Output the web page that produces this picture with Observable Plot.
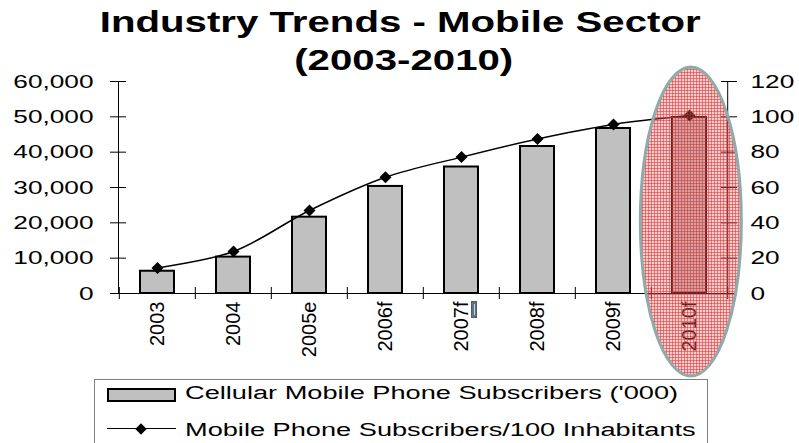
<!DOCTYPE html>
<html>
<head>
<meta charset="utf-8">
<script src="https://cdn.jsdelivr.net/npm/d3@7"></script>
<script src="https://cdn.jsdelivr.net/npm/@observablehq/plot@0.6"></script>
<style>
html, body { margin: 0; padding: 0; background: #fff; overflow: hidden; }
#wrap { position: relative; width: 799px; height: 443px; font-family: "Liberation Sans", Arial, sans-serif; color: #000; }
#title { position: absolute; left: 0; top: 2.6px; width: 799px; text-align: center; font-weight: bold; font-size: 30px; line-height: 38px; z-index: 2; }
#title div span { display: inline-block; transform: scaleX(1.34); transform-origin: center; white-space: nowrap; }
#chart svg { display: block; }
#chart [aria-label^="x-axis"] text { font-size: 20px; }
#legend { position: absolute; left: 94px; top: 379px; width: 614px; height: 90px; box-sizing: border-box; border: 1.5px solid #808080; background: #fff; }
#legend .lt { position: absolute; left: 89.5px; font-size: 18px; line-height: 18px; white-space: nowrap; transform: scaleX(1.51); transform-origin: left center; }
#legend .sw { position: absolute; left: 11.5px; top: 7.5px; width: 69px; height: 14px; box-sizing: border-box; border: 2px solid #000; background: #c0c0c0; }
#legend .ln { position: absolute; left: 11.5px; top: 47.8px; width: 69px; height: 1.5px; background: #000; }
#legend .dm { position: absolute; left: 41.5px; top: 44.5px; width: 8px; height: 8px; background: #000; transform: rotate(45deg); }
#handle { position: absolute; left: 471px; top: 301px; width: 6px; height: 17px; box-sizing: border-box; background: #5d7586; border: 1px solid #4a5e6c; }
#handle::after { content: ""; position: absolute; left: 1.5px; top: 2px; width: 1px; height: 11px; background: #c8d4dc; }
</style>
</head>
<body>
<div id="wrap">
  <div id="chart"></div>
  <div id="title"></div>
  <div id="handle"></div>
  <div id="legend"></div>
</div>
<script>
// ---- data ----
const titleLines = ["Industry Trends - Mobile Sector", "(2003-2010)"];
const categories = ["2003", "2004", "2005e", "2006f", "2007f", "2008f", "2009f", "2010f"];
const subscribers = [6300, 10300, 21600, 30300, 35800, 41600, 46700, 49800];       // '000 (left axis)
const per100 = [14.5, 23.8, 47.0, 65.8, 77.2, 87.5, 95.7, 100.7];                   // per 100 inhabitants (right axis)
const leftTicks = [0, 10000, 20000, 30000, 40000, 50000, 60000];
const rightTicks = [0, 20, 40, 60, 80, 100, 120];
const highlight = ["2010f"];
const legendLabels = ["Cellular Mobile Phone Subscribers ('000)", "Mobile Phone Subscribers/100 Inhabitants"];

// ---- layout ----
const W = 799, H = 379, ML = 118, MR = 70, MT = 81, MB = 86;
const PI = 0.55, PO = 0.275;
const plotW = W - ML - MR, plotH = H - MT - MB;
const step = plotW / categories.length;
const ratio = leftTicks[leftTicks.length - 1] / rightTicks[rightTicks.length - 1];
const lastCat = categories[categories.length - 1];
const fmt = d3.format(",");

const rows = categories.map((c, i) => ({cat: c, subs: subscribers[i], rate: per100[i]}));

const plot = Plot.plot({
  width: W, height: H,
  marginLeft: ML, marginRight: MR, marginTop: MT, marginBottom: MB,
  style: {fontFamily: '"Liberation Sans", Arial, sans-serif', fontSize: "19px", color: "#000", background: "transparent", overflow: "visible"},
  x: {type: "band", domain: categories, paddingInner: PI, paddingOuter: PO, align: 0.5, label: null,
      tickRotate: -90, tickSize: 0, tickPadding: 8, line: true},
  y: {domain: [leftTicks[0], leftTicks[leftTicks.length - 1]], ticks: leftTicks, tickFormat: d => fmt(d),
      tickSize: 0, tickPadding: 25, label: null, line: true},
  marks: [
    Plot.barY(rows, {x: "cat", y: "subs", fill: "#c0c0c0", stroke: "#000", strokeWidth: 2}),
    // left axis crossing ticks
    Plot.ruleY(leftTicks, {y: d => d, insetLeft: -8, insetRight: plotW - 8, stroke: "#000"}),
    // right axis line + crossing ticks
    Plot.ruleX([lastCat], {x: d => d, dx: step / 2, stroke: "#000"}),
    Plot.ruleY(rightTicks, {y: d => d * ratio, insetLeft: plotW - 8, insetRight: -8, stroke: "#000"}),
    // category boundary ticks on the x axis
    Plot.ruleX(categories, {x: d => d, dx: -step / 2, insetTop: plotH - 6, insetBottom: -6, stroke: "#000"}),
    Plot.ruleX([lastCat], {x: d => d, dx: step / 2, insetTop: plotH - 6, insetBottom: -6, stroke: "#000"}),
    // line series on the right-hand scale
    Plot.line(rows, {x: "cat", y: d => d.rate * ratio, curve: "catmull-rom", stroke: "#000", strokeWidth: 1.5}),
    Plot.dot(rows, {x: "cat", y: d => d.rate * ratio, symbol: "diamond2", r: 5.4, fill: "#000", stroke: "none"}),
    // right axis labels
    Plot.text(rightTicks, {frameAnchor: "right", y: d => d * ratio, text: d => String(d), textAnchor: "start", dx: 21, fill: "#000"})
  ]
});
document.getElementById("chart").appendChild(plot);

const svgNode = plot.tagName.toLowerCase() === "svg" ? plot : plot.querySelector("svg");
const svg = d3.select(svgNode);

// horizontal stretch of the tick-label glyphs (the reference font is wide)
function stretch(sel, k) {
  sel.each(function () {
    const t = d3.select(this);
    const xa = t.attr("x");
    const x = xa != null && /^-?[\d.]+$/.test(xa) ? +xa : 0;
    const tr = t.attr("transform") || "";
    if (x) t.attr("x", null);
    t.attr("transform", `${tr} translate(${x},0) scale(${k},1)`);
  });
}
stretch(svg.selectAll('[aria-label^="y-axis"] text'), 1.38);
stretch(svg.selectAll('g[aria-label="text"] text'), 1.38);

// ---- highlight ellipse (annotation) ----
const xb = d3.scaleBand().domain(categories).range([ML, W - MR]).paddingInner(PI).paddingOuter(PO).align(0.5);
const defs = svg.append("defs");
const pat = defs.append("pattern").attr("id", "hatch").attr("patternUnits", "userSpaceOnUse")
  .attr("width", 3).attr("height", 3);
pat.append("rect").attr("width", 3).attr("height", 3).attr("fill", "rgba(230,110,110,0.35)");
pat.append("path").attr("d", "M0 0.5H3M0.5 0V3").attr("stroke", "rgba(215,40,40,0.5)").attr("stroke-width", 1);
highlight.forEach(c => {
  svg.append("ellipse")
    .attr("cx", xb(c) + xb.bandwidth() / 2)
    .attr("cy", 221.5)
    .attr("rx", 50.5)
    .attr("ry", 154.5)
    .attr("fill", "url(#hatch)")
    .attr("stroke", "#8eaaab")
    .attr("stroke-width", 3);
});

// ---- title ----
const titleEl = document.getElementById("title");
titleLines.forEach((t, i) => {
  const d = document.createElement("div");
  d.style.marginLeft = (i === 0 ? 2 : 9) + "px";
  const s = document.createElement("span");
  s.textContent = t;
  d.appendChild(s);
  titleEl.appendChild(d);
});

// ---- legend ----
const lg = document.getElementById("legend");
lg.innerHTML = '<div class="sw"></div><div class="ln"></div><div class="dm"></div>';
[4.3, 41.3].forEach((top, i) => {
  const s = document.createElement("span");
  s.className = "lt";
  s.style.top = top + "px";
  s.textContent = legendLabels[i];
  lg.appendChild(s);
});
</script>
</body>
</html>
